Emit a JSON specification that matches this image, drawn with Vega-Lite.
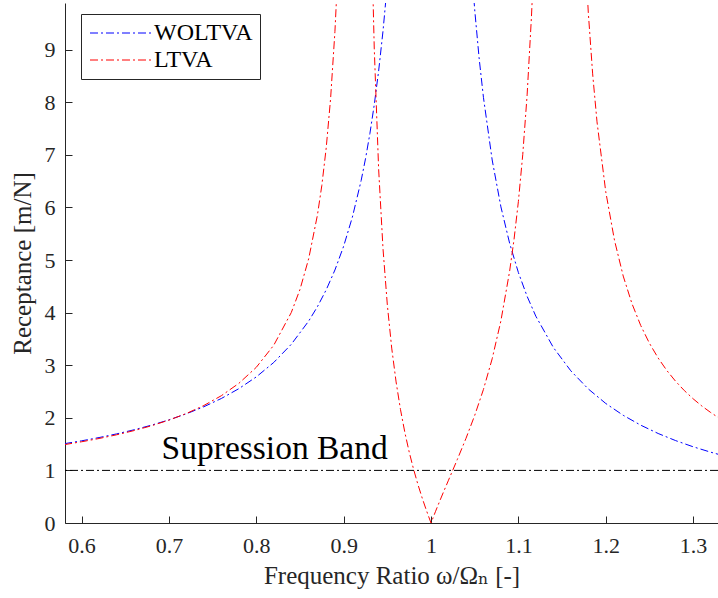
{
  "$schema": "https://vega.github.io/schema/vega-lite/v6.json",
  "width": 653,
  "height": 520,
  "autosize": {"type": "none"},
  "padding": {"left": 65, "top": 3, "right": 0, "bottom": 75},
  "background": "white",
  "config": {
    "view": {"stroke": null},
    "axis": {
      "grid": false,
      "domainColor": "#262626",
      "tickColor": "#262626",
      "labelColor": "#262626",
      "titleColor": "#262626",
      "labelFont": "Liberation Serif, Tinos, Times New Roman, DejaVu Serif, serif",
      "titleFont": "Liberation Serif, Tinos, Times New Roman, DejaVu Serif, serif",
      "labelFontSize": 22,
      "titleFontSize": 25,
      "titleFontWeight": "normal",
      "tickSize": -7,
      "domainWidth": 1,
      "tickWidth": 1
    },
    "legend": {
      "orient": "none",
      "legendX": 16,
      "legendY": 11,
      "symbolType": "M-3,0H3",
      "symbolSize": 427,
      "symbolOffset": 21,
      "symbolStrokeWidth": 1,
      "symbolDash": [8, 3, 2, 3],
      "labelFont": "Liberation Serif, Tinos, Times New Roman, DejaVu Serif, serif",
      "labelFontSize": 24,
      "labelColor": "black",
      "labelOffset": 21,
      "padding": 7,
      "rowPadding": 3,
      "strokeColor": "#262626",
      "fillColor": "white"
    }
  },
  "layer": [
    {
      "data": {"values": [
        {"series": "WOLTVA", "r": 0.58, "R": 1.5069},
        {"series": "WOLTVA", "r": 0.60, "R": 1.5625},
        {"series": "WOLTVA", "r": 0.62, "R": 1.6244},
        {"series": "WOLTVA", "r": 0.64, "R": 1.6938},
        {"series": "WOLTVA", "r": 0.66, "R": 1.7718},
        {"series": "WOLTVA", "r": 0.68, "R": 1.8601},
        {"series": "WOLTVA", "r": 0.70, "R": 1.9608},
        {"series": "WOLTVA", "r": 0.72, "R": 2.0764},
        {"series": "WOLTVA", "r": 0.74, "R": 2.2104},
        {"series": "WOLTVA", "r": 0.76, "R": 2.3674},
        {"series": "WOLTVA", "r": 0.78, "R": 2.5536},
        {"series": "WOLTVA", "r": 0.80, "R": 2.7778},
        {"series": "WOLTVA", "r": 0.82, "R": 3.0525},
        {"series": "WOLTVA", "r": 0.84, "R": 3.3967},
        {"series": "WOLTVA", "r": 0.86, "R": 3.8402},
        {"series": "WOLTVA", "r": 0.87, "R": 4.1135},
        {"series": "WOLTVA", "r": 0.88, "R": 4.4326},
        {"series": "WOLTVA", "r": 0.89, "R": 4.8100},
        {"series": "WOLTVA", "r": 0.90, "R": 5.2632},
        {"series": "WOLTVA", "r": 0.91, "R": 5.8173},
        {"series": "WOLTVA", "r": 0.92, "R": 6.5104},
        {"series": "WOLTVA", "r": 0.925, "R": 6.9264},
        {"series": "WOLTVA", "r": 0.93, "R": 7.4019},
        {"series": "WOLTVA", "r": 0.935, "R": 7.9507},
        {"series": "WOLTVA", "r": 0.94, "R": 8.5911},
        {"series": "WOLTVA", "r": 0.945, "R": 9.3480},
        {"series": "WOLTVA", "r": 0.95, "R": 10.2564},
        {"series": "WOLTVA", "r": 1.045, "R": 10.8666},
        {"series": "WOLTVA", "r": 1.05, "R": 9.7561},
        {"series": "WOLTVA", "r": 1.055, "R": 8.8476},
        {"series": "WOLTVA", "r": 1.06, "R": 8.0906},
        {"series": "WOLTVA", "r": 1.07, "R": 6.9013},
        {"series": "WOLTVA", "r": 1.08, "R": 6.0096},
        {"series": "WOLTVA", "r": 1.09, "R": 5.3163},
        {"series": "WOLTVA", "r": 1.10, "R": 4.7619},
        {"series": "WOLTVA", "r": 1.11, "R": 4.3085},
        {"series": "WOLTVA", "r": 1.12, "R": 3.9308},
        {"series": "WOLTVA", "r": 1.14, "R": 3.3378},
        {"series": "WOLTVA", "r": 1.16, "R": 2.8935},
        {"series": "WOLTVA", "r": 1.18, "R": 2.5484},
        {"series": "WOLTVA", "r": 1.20, "R": 2.2727},
        {"series": "WOLTVA", "r": 1.22, "R": 2.0475},
        {"series": "WOLTVA", "r": 1.24, "R": 1.8601},
        {"series": "WOLTVA", "r": 1.26, "R": 1.7018},
        {"series": "WOLTVA", "r": 1.28, "R": 1.5664},
        {"series": "WOLTVA", "r": 1.30, "R": 1.4493},
        {"series": "WOLTVA", "r": 1.32, "R": 1.3470},
        {"series": "WOLTVA", "r": 1.33, "R": 1.3006},
        {"series": "LTVA", "r": 0.58, "R": 1.4892},
        {"series": "LTVA", "r": 0.60, "R": 1.5443},
        {"series": "LTVA", "r": 0.62, "R": 1.6063},
        {"series": "LTVA", "r": 0.64, "R": 1.6764},
        {"series": "LTVA", "r": 0.66, "R": 1.7565},
        {"series": "LTVA", "r": 0.68, "R": 1.8486},
        {"series": "LTVA", "r": 0.70, "R": 1.9558},
        {"series": "LTVA", "r": 0.72, "R": 2.0824},
        {"series": "LTVA", "r": 0.74, "R": 2.2342},
        {"series": "LTVA", "r": 0.76, "R": 2.4203},
        {"series": "LTVA", "r": 0.78, "R": 2.6545},
        {"series": "LTVA", "r": 0.80, "R": 2.9604},
        {"series": "LTVA", "r": 0.82, "R": 3.3804},
        {"series": "LTVA", "r": 0.84, "R": 4.0003},
        {"series": "LTVA", "r": 0.85, "R": 4.4403},
        {"series": "LTVA", "r": 0.86, "R": 5.0280},
        {"series": "LTVA", "r": 0.87, "R": 5.8575},
        {"series": "LTVA", "r": 0.875, "R": 6.4179},
        {"series": "LTVA", "r": 0.88, "R": 7.1288},
        {"series": "LTVA", "r": 0.885, "R": 8.0623},
        {"series": "LTVA", "r": 0.89, "R": 9.3462},
        {"series": "LTVA", "r": 0.893, "R": 10.379},
        {"series": "LTVA", "r": 0.932, "R": 11.085},
        {"series": "LTVA", "r": 0.935, "R": 9.0296},
        {"series": "LTVA", "r": 0.94, "R": 6.7363},
        {"series": "LTVA", "r": 0.945, "R": 5.2219},
        {"series": "LTVA", "r": 0.95, "R": 4.1406},
        {"series": "LTVA", "r": 0.955, "R": 3.3247},
        {"series": "LTVA", "r": 0.96, "R": 2.6828},
        {"series": "LTVA", "r": 0.965, "R": 2.1606},
        {"series": "LTVA", "r": 0.97, "R": 1.7238},
        {"series": "LTVA", "r": 0.975, "R": 1.3498},
        {"series": "LTVA", "r": 0.98, "R": 1.0230},
        {"series": "LTVA", "r": 0.985, "R": 0.7319},
        {"series": "LTVA", "r": 0.99, "R": 0.4684},
        {"series": "LTVA", "r": 0.995, "R": 0.2261},
        {"series": "LTVA", "r": 1.0, "R": 0},
        {"series": "LTVA", "r": 1.005, "R": 0.2139},
        {"series": "LTVA", "r": 1.01, "R": 0.4190},
        {"series": "LTVA", "r": 1.015, "R": 0.6181},
        {"series": "LTVA", "r": 1.02, "R": 0.8138},
        {"series": "LTVA", "r": 1.025, "R": 1.0085},
        {"series": "LTVA", "r": 1.03, "R": 1.2042},
        {"series": "LTVA", "r": 1.04, "R": 1.6084},
        {"series": "LTVA", "r": 1.05, "R": 2.0455},
        {"series": "LTVA", "r": 1.06, "R": 2.5393},
        {"series": "LTVA", "r": 1.07, "R": 3.1226},
        {"series": "LTVA", "r": 1.08, "R": 3.8449},
        {"series": "LTVA", "r": 1.09, "R": 4.7898},
        {"series": "LTVA", "r": 1.095, "R": 5.3895},
        {"series": "LTVA", "r": 1.10, "R": 6.1121},
        {"series": "LTVA", "r": 1.105, "R": 7.0046},
        {"series": "LTVA", "r": 1.11, "R": 8.1388},
        {"series": "LTVA", "r": 1.115, "R": 9.6354},
        {"series": "LTVA", "r": 1.118, "R": 10.791},
        {"series": "LTVA", "r": 1.175, "R": 11.277},
        {"series": "LTVA", "r": 1.18, "R": 9.7118},
        {"series": "LTVA", "r": 1.185, "R": 8.5393},
        {"series": "LTVA", "r": 1.19, "R": 7.6270},
        {"series": "LTVA", "r": 1.20, "R": 6.2983},
        {"series": "LTVA", "r": 1.21, "R": 5.3750},
        {"series": "LTVA", "r": 1.22, "R": 4.6947},
        {"series": "LTVA", "r": 1.23, "R": 4.1714},
        {"series": "LTVA", "r": 1.24, "R": 3.7560},
        {"series": "LTVA", "r": 1.25, "R": 3.4174},
        {"series": "LTVA", "r": 1.26, "R": 3.1360},
        {"series": "LTVA", "r": 1.27, "R": 2.8980},
        {"series": "LTVA", "r": 1.28, "R": 2.6940},
        {"series": "LTVA", "r": 1.29, "R": 2.5169},
        {"series": "LTVA", "r": 1.30, "R": 2.3618},
        {"series": "LTVA", "r": 1.31, "R": 2.2245},
        {"series": "LTVA", "r": 1.32, "R": 2.1023},
        {"series": "LTVA", "r": 1.33, "R": 1.9926}
      ]},
      "mark": {"type": "line", "clip": true, "strokeWidth": 1, "strokeDash": [8, 3, 2, 3]},
      "encoding": {
        "x": {
          "field": "r", "type": "quantitative",
          "scale": {"domain": [0.581, 1.3285], "nice": false, "zero": false},
          "axis": {
            "values": [0.6, 0.7, 0.8, 0.9, 1, 1.1, 1.2, 1.3],
            "format": "~g",
            "labelPadding": 19,
            "title": "Frequency Ratio ω/Ωₙ [-]",
            "titleY": 60,
            "titleBaseline": "alphabetic"
          }
        },
        "y": {
          "field": "R", "type": "quantitative",
          "scale": {"domain": [0, 9.886], "nice": false},
          "axis": {
            "values": [0, 1, 2, 3, 4, 5, 6, 7, 8, 9],
            "format": "d",
            "labelPadding": 17,
            "title": "Receptance [m/N]",
            "titleX": -35,
            "titleY": 260,
            "titleBaseline": "alphabetic"
          }
        },
        "color": {
          "field": "series", "type": "nominal",
          "scale": {"domain": ["WOLTVA", "LTVA"], "range": ["#0000ff", "#ff0000"]},
          "legend": {"title": null}
        },
        "order": {"field": "r", "type": "quantitative"}
      }
    },
    {
      "data": {"values": [{"level": 1}]},
      "mark": {"type": "rule", "color": "black", "strokeWidth": 1, "strokeDash": [8, 3, 2, 3]},
      "encoding": {"y": {"field": "level", "type": "quantitative"}}
    },
    {
      "data": {"values": [{"label": "Supression Band", "x": 0.6916, "y": 1.21}]},
      "mark": {"type": "text", "align": "left", "baseline": "alphabetic", "font": "Liberation Serif, Tinos, Times New Roman, DejaVu Serif, serif", "fontSize": 33.5, "color": "black"},
      "encoding": {
        "x": {"field": "x", "type": "quantitative"},
        "y": {"field": "y", "type": "quantitative"},
        "text": {"field": "label"}
      }
    }
  ]
}
